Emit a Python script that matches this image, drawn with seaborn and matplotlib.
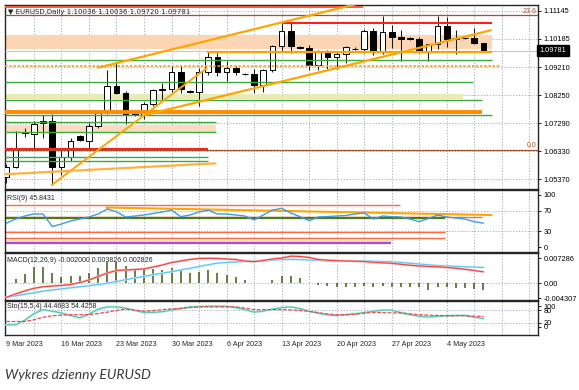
import matplotlib
matplotlib.use("Agg")
import matplotlib.pyplot as plt
import matplotlib.transforms as mtransforms
import numpy as np
import pandas as pd
import seaborn as sns

sns.set_style("white")
plt.rcParams['font.family'] = ['Liberation Sans', 'DejaVu Sans']

# ---------------- data ----------------
date_labels = ['9 Mar 2023', '16 Mar 2023', '23 Mar 2023', '30 Mar 2023', '6 Apr 2023',
               '13 Apr 2023', '20 Apr 2023', '27 Apr 2023', '4 May 2023']
date_label_bars = [0, 6, 12, 18, 24, 30, 36, 42, 48]

opens = [1.0545, 1.0581, 1.0700, 1.0691, 1.0730, 1.0738, 1.0580, 1.0612, 1.0684, 1.0670,
         1.0720, 1.0766, 1.0858, 1.0834, 1.0760, 1.0757, 1.0796, 1.0842, 1.0846, 1.0905,
         1.0840, 1.0836, 1.0903, 1.0955, 1.0904, 1.0919, 1.0898, 1.0897, 1.0860, 1.0912,
         1.0993, 1.1045, 1.0990, 1.0988, 1.0930, 1.0973, 1.0957, 1.0966, 1.0985, 1.0983,
         1.1045, 1.0972, 1.1040, 1.1026, 1.1020, 1.1018, 1.0973, 1.1002, 1.1062, 1.1018,
         1.1020, 1.1020, 1.10036]
highs = [1.0590, 1.0703, 1.0712, 1.0736, 1.0759, 1.0760, 1.0637, 1.0680, 1.0690, 1.0731,
         1.0771, 1.0912, 1.0935, 1.0840, 1.0766, 1.0803, 1.0845, 1.0866, 1.0925, 1.0925,
         1.0843, 1.0917, 1.0973, 1.0971, 1.0941, 1.0926, 1.0902, 1.0915, 1.0915, 1.0998,
         1.1080, 1.1076, 1.0995, 1.0996, 1.0979, 1.0980, 1.0972, 1.0995, 1.0990, 1.1053,
         1.1055, 1.1095, 1.1065, 1.1050, 1.1023, 1.1026, 1.1000, 1.1096, 1.1092, 1.1050,
         1.1024, 1.1055, 1.10036]
lows = [1.0524, 1.0575, 1.0681, 1.0646, 1.0680, 1.0516, 1.0551, 1.0600, 1.0668, 1.0636,
        1.0713, 1.0762, 1.0830, 1.0728, 1.0755, 1.0744, 1.0787, 1.0809, 1.0836, 1.0833,
        1.0832, 1.0788, 1.0893, 1.0892, 1.0875, 1.0896, 1.0894, 1.0832, 1.0837, 1.0906,
        1.0978, 1.0969, 1.0985, 1.0910, 1.0910, 1.0915, 1.0916, 1.0937, 1.0980, 1.0970,
        1.0964, 1.0965, 1.0986, 1.0944, 1.1015, 1.0970, 1.0942, 1.0985, 1.0990, 1.0967,
        1.1016, 1.1000, 1.09720]
closes = [1.0581, 1.0646, 1.0695, 1.0728, 1.0738, 1.0580, 1.0612, 1.0667, 1.0672, 1.0720,
          1.0764, 1.0856, 1.0834, 1.0758, 1.0757, 1.0796, 1.0842, 1.0846, 1.0905, 1.0848,
          1.0836, 1.0903, 1.0955, 1.0904, 1.0919, 1.0904, 1.0897, 1.0860, 1.0912, 1.0993,
          1.1045, 1.0995, 1.0988, 1.0930, 1.0973, 1.0957, 1.0966, 1.0991, 1.0983, 1.1045,
          1.0972, 1.1040, 1.1026, 1.1019, 1.1018, 1.0973, 1.1002, 1.1062, 1.1018, 1.1020,
          1.1021, 1.1004, 1.09781]

rsi = [45.6, 53.8, 59.6, 63.5, 63.5, 39.4, 44.2, 50.0, 53.8, 57.7,
       63.5, 73.0, 67.9, 57.7, 59.6, 61.5, 64.4, 67.3, 71.0, 58.3,
       61.5, 67.3, 71.0, 63.5, 63.5, 61.5, 59.6, 52.0, 61.5, 71.0,
       74.4, 65.4, 58.3, 50.6, 57.7, 58.6, 59.6, 60.6, 63.5, 65.4,
       53.8, 59.6, 58.3, 57.7, 53.8, 48.7, 54.8, 61.5, 57.7, 55.8,
       53.8, 48.7, 45.8]

macd_hist = [0.0, 0.00117, 0.00271, 0.00484, 0.00484, 0.00291, 0.00175, 0.00213, 0.00213, 0.00309,
             0.00437, 0.0063, 0.0063, 0.00504, 0.00417, 0.00417, 0.00417, 0.00388, 0.00455, 0.00388,
             0.00309, 0.00338, 0.00388, 0.00309, 0.00242, 0.00175, 0.00096, 0.0001, 0.0002, 0.00096,
             0.00213, 0.00213, 0.00146, 0.0, -0.0005, -0.0008, -0.001, -0.0012, -0.001, -0.0008,
             -0.001, -0.0008, -0.001, -0.001, -0.0012, -0.0012, -0.0019, -0.0012, -0.0012, -0.0015,
             -0.0015, -0.0017, -0.0020]
macd_red = [-0.00408, -0.00312, -0.00224, -0.00146, -0.00102, -0.00079, -0.00064, -0.00035, 0.00023, 0.00096,
            0.00198, 0.0030, 0.00373, 0.00388, 0.00402, 0.00417, 0.00475, 0.00533, 0.00606, 0.0065,
            0.00694, 0.00723, 0.00729, 0.00723, 0.00708, 0.00694, 0.0065, 0.00629, 0.00664, 0.00708,
            0.00737, 0.0079, 0.00781, 0.00752, 0.00694, 0.00673, 0.00659, 0.0065, 0.00644, 0.00635,
            0.00612, 0.00597, 0.00583, 0.00554, 0.00525, 0.00504, 0.0049, 0.00481, 0.00463, 0.00437,
            0.00408, 0.00373, 0.00335]
macd_blue = [-0.00408, -0.00364, -0.00321, -0.00277, -0.0023, -0.00195, -0.00163, -0.00131, -0.00102, -0.00073,
             -0.00038, 0.00003, 0.00052, 0.00105, 0.00154, 0.00201, 0.00251, 0.00294, 0.00338, 0.00388,
             0.00437, 0.0049, 0.00539, 0.00589, 0.00606, 0.00621, 0.00635, 0.0065, 0.00664, 0.00679,
             0.00691, 0.00699, 0.00691, 0.00679, 0.00667, 0.00656, 0.00656, 0.00653, 0.00653, 0.0065,
             0.00644, 0.00635, 0.00629, 0.00606, 0.00583, 0.00562, 0.00539, 0.00516, 0.00504, 0.00492,
             0.00481, 0.00472, 0.00463]

sto_main = [8.5, 8.5, 31, 63.5, 83.5, 76, 67, 54.5, 43.5, 61,
            86, 97, 97, 91, 79.5, 70, 70, 73.5, 81, 88.5,
            97, 98.5, 100, 100, 100, 93.5, 83.5, 71, 76, 86,
            93.5, 97, 88.5, 75, 66, 58.5, 54.5, 58.5, 62.5, 68.5,
            76, 81, 81, 68.5, 58.5, 51, 47, 51, 53.5, 54.5,
            55, 46, 40]
sto_signal = [25, 25, 25, 33.5, 46, 53.5, 56, 58.5, 58.5, 58.5,
              64.5, 71, 79.5, 86, 81, 76, 78.5, 83.5, 87, 89.5,
              93.5, 96.5, 97, 97, 97, 97, 91, 83.5, 83.5, 83.5,
              83.5, 82, 79.5, 75, 68.5, 61, 58.5, 58.5, 61, 66,
              70, 68.5, 67.5, 67, 62.5, 58.5, 56.5, 54.5, 53.5, 53.5,
              53.5, 51, 50]

price_ticks = [1.11145, 1.10185, 1.09210, 1.08250, 1.07290, 1.06330, 1.05370]
rsi_ticks = [100, 70, 30, 0]
macd_ticks = [0.007286, 0.0, -0.004307]
macd_tick_labels = ['0.007286', '0.00', '-0.004307']
sto_ticks = [100, 80, 20, 0]

header_text = '\u25bc EURUSD,Daily 1.10036 1.10036 1.09720 1.09781'
rsi_text = 'RSI(9) 45.8431'
macd_text = 'MACD(12,26,9) -0.002000 0.003826 0.002826'
sto_text = 'Sto(15,5,4) 44.4683 54.4258'
caption = 'Wykres dzienny EURUSD'

# drawn objects on the price panel (price level, to bar)
FULL = 58.5
green_levels = [(1.0945, 52.9), (1.0870, 50.9), (1.0808, 51.9), (1.0758, 52.9),
                (1.0733, 22.9), (1.0698, 22.9), (1.0613, 22.0), (1.0599, 22.0)]
fibo_levels = [(1.10998, '23.6'), (1.0638, '0.0')]

# ---------------- figure ----------------
df = pd.DataFrame({'bar': np.arange(len(closes)), 'open': opens, 'high': highs, 'low': lows,
                   'close': closes, 'rsi': rsi, 'hist': macd_hist, 'red': macd_red,
                   'blue': macd_blue, 'sto': sto_main, 'sig': sto_signal})
bars = df['bar'].to_numpy()

W, H = 579, 390
fig = plt.figure(figsize=(W / 100, H / 100), dpi=100)
L, R = 5, 538
GRID = '#9aa3b6'
DOT = (0, (1.5, 2))
XL = (-0.15, 57.95)


def panel(top, bottom):
    ax = fig.add_axes([L / W, 1 - bottom / H, (R - L) / W, (bottom - top) / H])
    for s in ax.spines.values():
        s.set_color('#262626')
        s.set_linewidth(1.0)
    ax.yaxis.tick_right()
    ax.tick_params(axis='y', length=2.5, width=0.6, pad=1.5, labelsize=5.3,
                   colors='#000000', direction='out')
    ax.tick_params(axis='x', length=0, labelbottom=False)
    for gx in range(3, 58, 3):
        ax.axvline(gx, color=GRID, lw=0.6, ls=DOT, zorder=0)
    return ax


def finish(ax, ylim):
    ax.set_xlim(*XL)
    ax.set_ylim(*ylim)
    ax.set_xlabel('')
    ax.set_ylabel('')


# ---- price panel ----
ax = panel(5, 188.5)
for p in price_ticks:
    ax.axhline(p, color=GRID, lw=0.6, ls=DOT, zorder=0)
ax.set_yticks(price_ticks)
ax.set_yticklabels([f'{p:.5f}' for p in price_ticks])

# shaded zones
ax.fill_between([-0.2, 52.9], 1.09848, 1.10311, color='#fcd6b4', lw=0, zorder=1)
ax.fill_between([-0.2, 49.8], 1.0811, 1.08285, color='#e8ebb8', lw=0, zorder=1)
ax.fill_between([-0.2, 22.9], 1.0698, 1.0722, color='#fcdcbe', lw=0, zorder=1)

# candles
o = df['open'].to_numpy(); c = df['close'].to_numpy()
lo = np.minimum(o, c); hi = np.maximum(o, c)
mid = (lo + hi) / 2
h = np.maximum(hi - lo, 0.00014)
up = c >= o
ax.vlines(bars, df['low'], df['high'], color='#1a1a1a', lw=0.75, zorder=4)
ax.bar(bars, h, bottom=mid - h / 2, width=0.62, color=np.where(up, 'white', 'black'),
       edgecolor='black', linewidth=0.7, zorder=5)

# horizontal objects
ax.hlines(1.11282, -0.2, 38.9, color='#ff5a36', lw=1.4, zorder=6)
ax.hlines(1.10723, 30.0, 52.9, color='#ff1e1e', lw=1.5, zorder=6)
ax.hlines(closes[-1], -0.2, FULL, color='#c3cad4', lw=0.8, zorder=3)
ax.hlines(1.0974, 21.9, 52.9, color='#ffa200', lw=1.6, zorder=6)
ax.hlines(1.0925, -0.2, 53.9, color='#f0a030', lw=1.2, ls=(0, (1.5, 1)), zorder=6)
for lvl, end in green_levels:
    ax.hlines(lvl, -0.2, end, color='#3daa3d', lw=1.0, zorder=6)
ax.hlines(1.0767, -0.2, 51.9, color='#ff8c00', lw=2.8, zorder=6)
ax.hlines(1.0640, -0.2, 22.0, color='#ff2020', lw=1.5, zorder=6)
for lvl, lab in fibo_levels:
    ax.hlines(lvl, -0.2, FULL, color='#a0522d', lw=0.9, zorder=6)
    ax.text(57.75, lvl + 0.00015, lab, ha='right', va='bottom', fontsize=5, color='#a0522d', zorder=8)

# trend lines
ax.plot([9.92, 38.7], [1.09190, 1.11416], color='#ffa500', lw=1.6, zorder=7, solid_capstyle='butt')
ax.plot([15.05, 52.9], [1.07568, 1.10483], color='#ffa500', lw=1.6, zorder=7, solid_capstyle='butt')
ax.plot([4.9, 21.9], [1.05167, 1.09197], color='#ffa500', lw=1.4, zorder=7, solid_capstyle='butt')
ax.plot([-0.2, 22.9], [1.05545, 1.0592], color='#ffb040', lw=1.6, zorder=7, solid_capstyle='butt')

ax.text(0.006, 0.962, header_text, transform=ax.transAxes, fontsize=5, va='center', ha='left',
        family=['DejaVu Sans'], zorder=9)
trans = mtransforms.blended_transform_factory(ax.transAxes, ax.transData)
ax.text(1.003, closes[-1], f'{closes[-1]:.5f}', transform=trans, fontsize=5.3, color='white',
        va='center', ha='left', zorder=10, clip_on=False,
        bbox=dict(boxstyle='square,pad=0.3', fc='black', ec='black'))
finish(ax, (1.05057, 1.11341))

# ---- RSI panel ----
axr = panel(190, 252)
for lv in (70, 30):
    axr.axhline(lv, color=GRID, lw=0.6, ls=DOT, zorder=0)
axr.hlines(80.8, -0.2, 42.9, color='#ff6a45', lw=1.0)
axr.hlines(58.3, -0.2, 51.8, color='#ff6a45', lw=1.0)
axr.hlines(55.2, -0.2, 47.8, color='#4c7a1a', lw=1.6)
axr.hlines(29.4, -0.2, 47.8, color='#ff6a45', lw=1.0)
axr.hlines(16.7, -0.2, 47.8, color='#ff6a45', lw=1.0)
axr.hlines(12.1, -0.2, 41.9, color='#f3e3a6', lw=1.2)
axr.hlines(7.1, -0.2, 41.9, color='#b446e0', lw=1.6)
axr.plot([10.9, 52.9], [76, 61.5], color='#ffa500', lw=1.5, zorder=4)
sns.lineplot(data=df, x='bar', y='rsi', ax=axr, color='#3d9be9', lw=1.0, legend=False, zorder=5)
axr.set_yticks(rsi_ticks)
axr.set_yticklabels([str(t) for t in rsi_ticks])
axr.text(0.004, 0.87, rsi_text, transform=axr.transAxes, fontsize=5, va='center', ha='left')
finish(axr, (-9.6, 109.6))

# ---- MACD panel ----
axm = panel(253, 300)
axm.axhline(0, color=GRID, lw=0.6, ls=DOT, zorder=0)
axm.vlines(bars, 0, df['hist'], color='#3f5a14', lw=1.1, zorder=3)
sns.lineplot(data=df, x='bar', y='blue', ax=axm, color='#c6ecf8', lw=1.6, legend=False, zorder=3)
sns.lineplot(data=df, x='bar', y='blue', ax=axm, color='#5cc6f0', lw=0.8, legend=False, zorder=4)
sns.lineplot(data=df, x='bar', y='red', ax=axm, color='#f8bcbc', lw=1.6, legend=False, zorder=4)
sns.lineplot(data=df, x='bar', y='red', ax=axm, color='#f04040', lw=0.8, legend=False, zorder=5)
axm.set_yticks(macd_ticks)
axm.set_yticklabels(macd_tick_labels)
axm.text(0.004, 0.84, macd_text, transform=axm.transAxes, fontsize=5, va='center', ha='left')
finish(axm, (-0.00487, 0.00883))

# ---- Stochastic panel ----
axs = panel(301, 335)
for lv in (80, 20):
    axs.axhline(lv, color=GRID, lw=0.6, ls=DOT, zorder=0)
sns.lineplot(data=df, x='bar', y='sto', ax=axs, color='#bfeee2', lw=1.8, legend=False, zorder=3)
sns.lineplot(data=df, x='bar', y='sto', ax=axs, color='#4fc4aa', lw=0.8, legend=False, zorder=4)
sns.lineplot(data=df, x='bar', y='sig', ax=axs, color='#f04848', lw=0.9, legend=False, zorder=5,
             dashes=False)
axs.lines[-1].set_linestyle((0, (3, 1.2)))
axs.set_yticks(sto_ticks)
axs.set_yticklabels([str(t) for t in sto_ticks])
axs.text(0.004, 0.84, sto_text, transform=axs.transAxes, fontsize=5, va='center', ha='left')
axs.set_xticks(date_label_bars)
axs.set_xticklabels(date_labels)
axs.tick_params(axis='x', length=2.5, width=0.6, pad=1.5, labelsize=5.2, labelbottom=True,
                direction='out')
for t in axs.get_xticklabels():
    t.set_ha('left')
finish(axs, (-41.5, 126))

fig.text(5 / W, 1 - 375 / H, caption, fontsize=10, style='italic', color='#3a3a3a',
         family=['Lato', 'DejaVu Sans'], va='center', ha='left')

fig.savefig('out.png', dpi=100)
